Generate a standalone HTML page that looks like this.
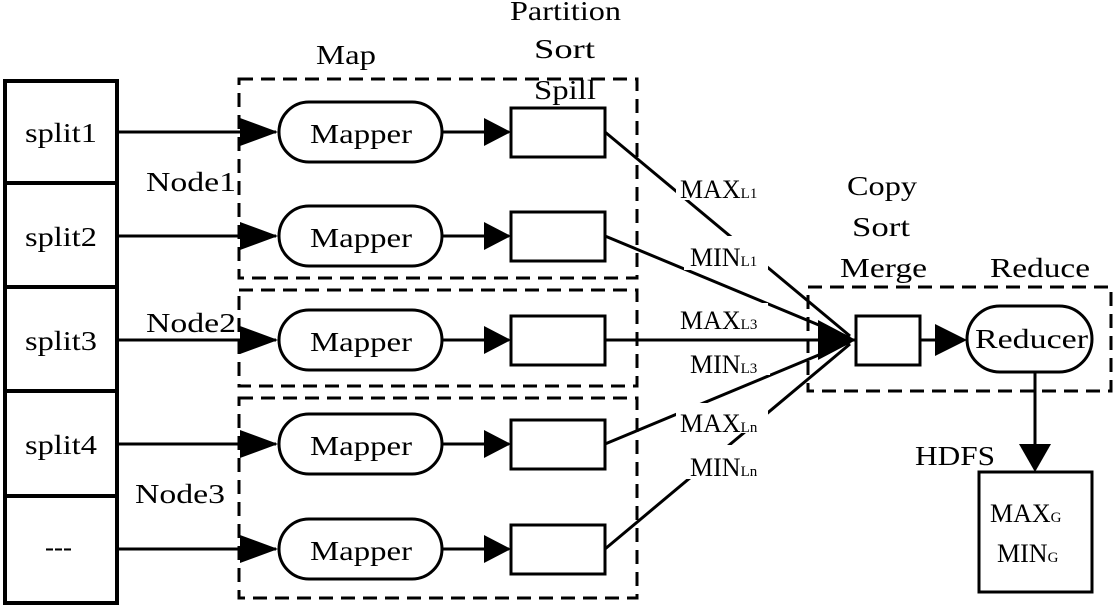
<!DOCTYPE html>
<html><head><style>
html,body{margin:0;padding:0;background:#fff;}
svg{display:block;}
text{font-family:"Liberation Serif",serif;font-size:27px;fill:#000;}
.m{font-size:26px;}
.s{font-size:15px;}
</style></head><body>
<svg width="1120" height="607" viewBox="0 0 1120 607" xmlns="http://www.w3.org/2000/svg">
<g stroke="#000" fill="none">
<rect x="5" y="81" width="112" height="522" stroke-width="4"/>
<line x1="5" y1="183" x2="117" y2="183" stroke-width="4"/>
<line x1="5" y1="287" x2="117" y2="287" stroke-width="4"/>
<line x1="5" y1="391" x2="117" y2="391" stroke-width="4"/>
<line x1="5" y1="496" x2="117" y2="496" stroke-width="4"/>
<g stroke-width="3" stroke-dasharray="14,8">
<rect x="239" y="79" width="398" height="199"/>
<rect x="239" y="290" width="398" height="96"/>
<rect x="239" y="398" width="398" height="200"/>
<rect x="808" y="287" width="303" height="104"/>
</g>
<g stroke-width="3">
<line x1="118" y1="132" x2="276" y2="132"/>
<line x1="118" y1="236" x2="276" y2="236"/>
<line x1="118" y1="340" x2="276" y2="340"/>
<line x1="118" y1="444" x2="276" y2="444"/>
<line x1="118" y1="549" x2="276" y2="549"/>
<line x1="443" y1="132" x2="509" y2="132"/>
<line x1="443" y1="236" x2="509" y2="236"/>
<line x1="443" y1="340" x2="509" y2="340"/>
<line x1="443" y1="444" x2="509" y2="444"/>
<line x1="443" y1="549" x2="509" y2="549"/>
</g>
<g fill="#000" stroke="none">
<path d="M240,118 L278,132 L240,146 z"/><path d="M240,222 L278,236 L240,250 z"/><path d="M240,326 L278,340 L240,354 z"/><path d="M240,430 L278,444 L240,458 z"/><path d="M240,535 L278,549 L240,563 z"/>
<path d="M484,118 L511,132 L484,146 z"/><path d="M484,222 L511,236 L484,250 z"/><path d="M484,326 L511,340 L484,354 z"/><path d="M484,430 L511,444 L484,458 z"/><path d="M484,535 L511,549 L484,563 z"/>
</g>
<g stroke-width="3">
<rect x="279" y="102" width="163" height="60" rx="30"/>
<rect x="279" y="206" width="163" height="60" rx="30"/>
<rect x="279" y="310" width="163" height="60" rx="30"/>
<rect x="279" y="414" width="163" height="60" rx="30"/>
<rect x="279" y="519" width="163" height="60" rx="30"/>
<rect x="511" y="108" width="94" height="49"/>
<rect x="511" y="212" width="94" height="49"/>
<rect x="511" y="316" width="94" height="49"/>
<rect x="511" y="420" width="94" height="49"/>
<rect x="511" y="525" width="94" height="49"/>
<line x1="605" y1="132" x2="850" y2="336"/>
<line x1="605" y1="236" x2="850" y2="338"/>
<line x1="605" y1="340" x2="850" y2="340"/>
<line x1="605" y1="444" x2="850" y2="342"/>
<line x1="605" y1="549" x2="850" y2="344"/>
<line x1="847" y1="340" x2="856" y2="340"/>
<rect x="856" y="316" width="64" height="49"/>
<line x1="920" y1="340" x2="960" y2="340"/>
<rect x="967" y="306" width="125" height="66" rx="33"/>
<line x1="1035" y1="372" x2="1035" y2="450"/>
<rect x="979" y="472" width="113" height="120"/>
</g>
<g fill="#000" stroke="none">
<path d="M818,320 L856,340 L818,360 z"/>
<path d="M935,324 L967,340 L935,356 z"/>
<path d="M1019,444 L1035,472 L1051,444 z"/>
</g>
</g>
<g fill="#fff">
<rect x="676" y="170" width="92" height="30"/>
<rect x="684" y="236" width="84" height="34"/>
<rect x="676" y="303" width="92" height="28"/>
<rect x="684" y="343" width="86" height="32"/>
<rect x="676" y="403" width="92" height="30"/>
<rect x="684" y="445" width="86" height="34"/>
</g>
<text x="25" y="142" textLength="72" lengthAdjust="spacingAndGlyphs">split1</text>
<text x="25" y="246" textLength="72" lengthAdjust="spacingAndGlyphs">split2</text>
<text x="25" y="350" textLength="72" lengthAdjust="spacingAndGlyphs">split3</text>
<text x="25" y="454" textLength="72" lengthAdjust="spacingAndGlyphs">split4</text>
<text x="45" y="556">---</text>
<text x="310" y="143" textLength="102" lengthAdjust="spacingAndGlyphs">Mapper</text>
<text x="310" y="247" textLength="102" lengthAdjust="spacingAndGlyphs">Mapper</text>
<text x="310" y="351" textLength="102" lengthAdjust="spacingAndGlyphs">Mapper</text>
<text x="310" y="455" textLength="102" lengthAdjust="spacingAndGlyphs">Mapper</text>
<text x="310" y="560" textLength="102" lengthAdjust="spacingAndGlyphs">Mapper</text>
<text x="146" y="191" textLength="90" lengthAdjust="spacingAndGlyphs">Node1</text>
<text x="146" y="332" textLength="90" lengthAdjust="spacingAndGlyphs">Node2</text>
<text x="135" y="503" textLength="90" lengthAdjust="spacingAndGlyphs">Node3</text>
<text x="316" y="64" textLength="60" lengthAdjust="spacingAndGlyphs">Map</text>
<text x="510" y="20" textLength="111" lengthAdjust="spacingAndGlyphs">Partition</text>
<text x="534" y="58" textLength="61" lengthAdjust="spacingAndGlyphs">Sort</text>
<text x="534" y="99" textLength="62" lengthAdjust="spacingAndGlyphs">Spill</text>
<text x="847" y="195" textLength="70" lengthAdjust="spacingAndGlyphs">Copy</text>
<text x="852" y="236" textLength="58" lengthAdjust="spacingAndGlyphs">Sort</text>
<text x="840" y="277" textLength="87" lengthAdjust="spacingAndGlyphs">Merge</text>
<text x="990" y="277" textLength="100" lengthAdjust="spacingAndGlyphs">Reduce</text>
<text x="975" y="348" textLength="113" lengthAdjust="spacingAndGlyphs">Reducer</text>
<text x="915" y="465" textLength="80" lengthAdjust="spacingAndGlyphs">HDFS</text>
<text class="m" x="680" y="198">MAX<tspan class="s">L1</tspan></text>
<text class="m" x="690" y="266">MIN<tspan class="s">L1</tspan></text>
<text class="m" x="680" y="329">MAX<tspan class="s">L3</tspan></text>
<text class="m" x="690" y="373">MIN<tspan class="s">L3</tspan></text>
<text class="m" x="680" y="432">MAX<tspan class="s">Ln</tspan></text>
<text class="m" x="690" y="476">MIN<tspan class="s">Ln</tspan></text>
<text class="m" x="990" y="522">MAX<tspan class="s">G</tspan></text>
<text class="m" x="997" y="562">MIN<tspan class="s">G</tspan></text>
</svg>
</body></html>
